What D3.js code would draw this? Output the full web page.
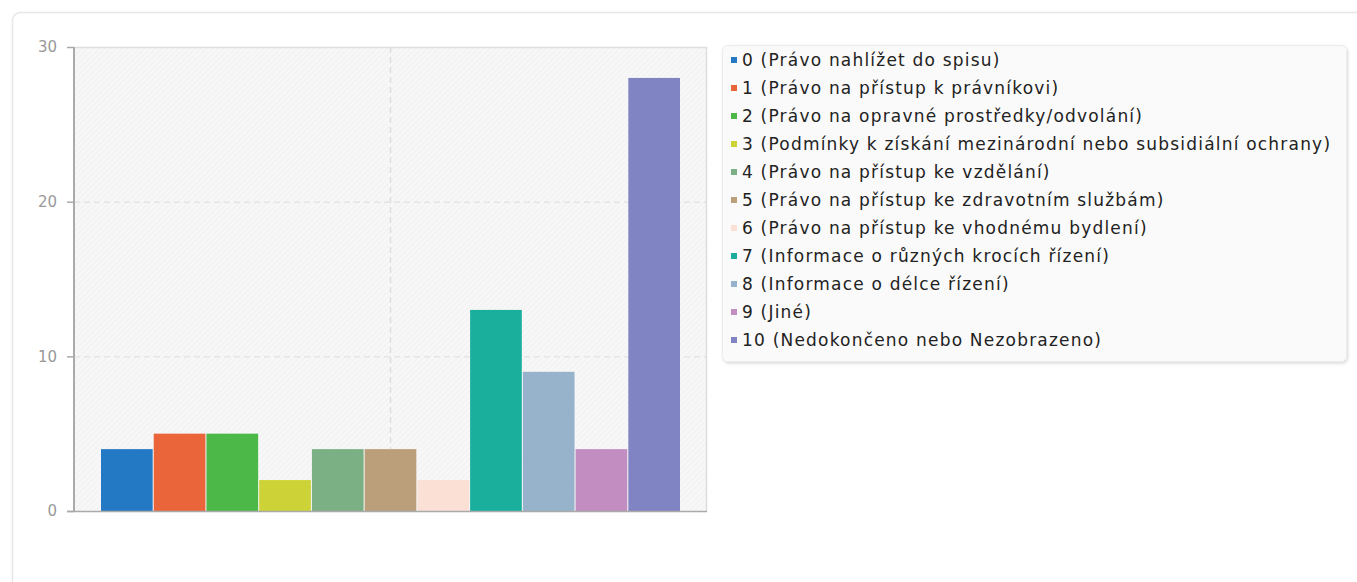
<!DOCTYPE html>
<html>
<head>
<meta charset="utf-8">
<script src="https://cdn.jsdelivr.net/npm/d3@7"></script>
<style>
  body { margin: 0; background: #fff; }
  svg { display: block; }
</style>
</head>
<body>
<script>
// categories, values and colours
var categories = [
  "0 (Právo nahlížet do spisu)",
  "1 (Právo na přístup k právníkovi)",
  "2 (Právo na opravné prostředky/odvolání)",
  "3 (Podmínky k získání mezinárodní nebo subsidiální ochrany)",
  "4 (Právo na přístup ke vzdělání)",
  "5 (Právo na přístup ke zdravotním službám)",
  "6 (Právo na přístup ke vhodnému bydlení)",
  "7 (Informace o různých krocích řízení)",
  "8 (Informace o délce řízení)",
  "9 (Jiné)",
  "10 (Nedokončeno nebo Nezobrazeno)"
];
var values = [4, 5, 5, 2, 4, 4, 2, 13, 9, 4, 28];
var colors = ["#2479c5", "#ea6539", "#4cb848", "#cdd336", "#7bb084", "#bb9f7b",
              "#fbe0d6", "#1aaf9c", "#97b3cc", "#c28ec1", "#8184c2"];
var yTicks = [0, 10, 20, 30];

//Width and height
var w = 1357;
var h = 582;
var plot = { left: 74, right: 707, top: 47, bottom: 511 };

var svg = d3.select("body")
            .append("svg")
            .attr("width", w)
            .attr("height", h);

var defs = svg.append("defs");

//Hatched background of the plot area
var pat = defs.append("pattern")
    .attr("id", "hatch")
    .attr("patternUnits", "userSpaceOnUse")
    .attr("width", 4)
    .attr("height", 4)
    .attr("patternTransform", "rotate(45)");
pat.append("rect").attr("width", 4).attr("height", 4).attr("fill", "#f7f7f7");
pat.append("line").attr("x1", 0).attr("y1", 0).attr("x2", 0).attr("y2", 4)
   .attr("stroke", "#efefef").attr("stroke-width", 1.5);

//Legend shadow
var f = defs.append("filter").attr("id", "shadow")
    .attr("x", "-5%").attr("y", "-5%").attr("width", "110%").attr("height", "115%");
f.append("feDropShadow").attr("dx", 1).attr("dy", 1.5).attr("stdDeviation", 1.5)
 .attr("flood-color", "#000").attr("flood-opacity", 0.15);

//Outer container
svg.append("rect")
   .attr("x", 12.5).attr("y", 12.5)
   .attr("width", w + 20).attr("height", h + 20)
   .attr("rx", 8)
   .attr("fill", "#fff")
   .attr("stroke", "#e6e6e6")
   .attr("stroke-width", 1.5);

//Scales
var x = d3.scaleBand()
          .domain(d3.range(values.length))
          .range([plot.left + 27, plot.right - 27])
          .paddingInner(0.02);

var y = d3.scaleLinear()
          .domain([0, 30])
          .range([plot.bottom, plot.top]);

//Plot background
svg.append("rect")
   .attr("x", plot.left).attr("y", plot.top)
   .attr("width", plot.right - plot.left)
   .attr("height", plot.bottom - plot.top)
   .attr("fill", "url(#hatch)");

//Top and right frame
svg.append("path")
   .attr("d", "M" + plot.left + "," + (plot.top + 0.5) + "H" + (plot.right - 0.5) + "V" + plot.bottom)
   .attr("fill", "none")
   .attr("stroke", "#dddddd")
   .attr("stroke-width", 1.5);

//Grid lines
svg.selectAll("line.grid")
   .data(yTicks.filter(function(d) { return d > 0 && d < 30; }))
   .enter()
   .append("line")
   .attr("class", "grid")
   .attr("x1", plot.left).attr("x2", plot.right)
   .attr("y1", function(d) { return y(d) + 0.5; })
   .attr("y2", function(d) { return y(d) + 0.5; })
   .attr("stroke", "#dddddd")
   .attr("stroke-dasharray", "6,4");

svg.append("line")
   .attr("x1", (plot.left + plot.right) / 2).attr("x2", (plot.left + plot.right) / 2)
   .attr("y1", plot.top).attr("y2", plot.bottom)
   .attr("stroke", "#dddddd")
   .attr("stroke-width", 1.5)
   .attr("stroke-dasharray", "6,4");

//Bars
svg.selectAll("rect.bar")
   .data(values)
   .enter()
   .append("rect")
   .attr("class", "bar")
   .attr("x", function(d, i) { return x(i); })
   .attr("y", function(d) { return y(d); })
   .attr("width", x.bandwidth())
   .attr("height", function(d) { return y(0) - y(d); })
   .attr("fill", function(d, i) { return colors[i]; });

//Y axis
var yAxis = d3.axisLeft(y)
              .tickValues(yTicks)
              .tickSize(7)
              .tickPadding(10);

var gy = svg.append("g")
            .attr("transform", "translate(" + plot.left + ",0)")
            .call(yAxis);
gy.select(".domain").attr("stroke", "#aaaaaa").attr("stroke-width", 2)
  .attr("d", "M0," + plot.top + "V" + plot.bottom);
gy.selectAll(".tick line").attr("stroke", "#aaaaaa").attr("stroke-width", 1.5);
gy.selectAll(".tick text")
  .attr("fill", "#999999")
  .attr("font-family", "DejaVu Sans, sans-serif")
  .attr("font-size", "15px");

//Bottom axis line
svg.append("line")
   .attr("x1", plot.left - 7).attr("x2", plot.right)
   .attr("y1", plot.bottom + 0.5).attr("y2", plot.bottom + 0.5)
   .attr("stroke", "#aaaaaa")
   .attr("stroke-width", 1.5);

//Legend
var legend = svg.append("g");
legend.append("rect")
      .attr("x", 722.5).attr("y", 45.5)
      .attr("width", 624).attr("height", 316)
      .attr("rx", 5)
      .attr("fill", "#fafafa")
      .attr("stroke", "#ececec")
      .attr("filter", "url(#shadow)");

var rowY = d3.scalePoint()
             .domain(d3.range(categories.length))
             .range([60, 340]);

var items = legend.selectAll("g.item")
                  .data(categories)
                  .enter()
                  .append("g")
                  .attr("class", "item")
                  .attr("transform", function(d, i) { return "translate(0," + rowY(i) + ")"; });

items.append("rect")
     .attr("x", 731).attr("y", -3)
     .attr("width", 6).attr("height", 6)
     .attr("fill", function(d, i) { return colors[i]; });

items.append("text")
     .attr("x", 742)
     .attr("dy", "0.35em")
     .attr("font-family", "DejaVu Sans, sans-serif")
     .attr("font-size", "17px")
     .attr("letter-spacing", "1.2px")
     .attr("fill", "#222222")
     .text(function(d) { return d; });
</script>
</body>
</html>
